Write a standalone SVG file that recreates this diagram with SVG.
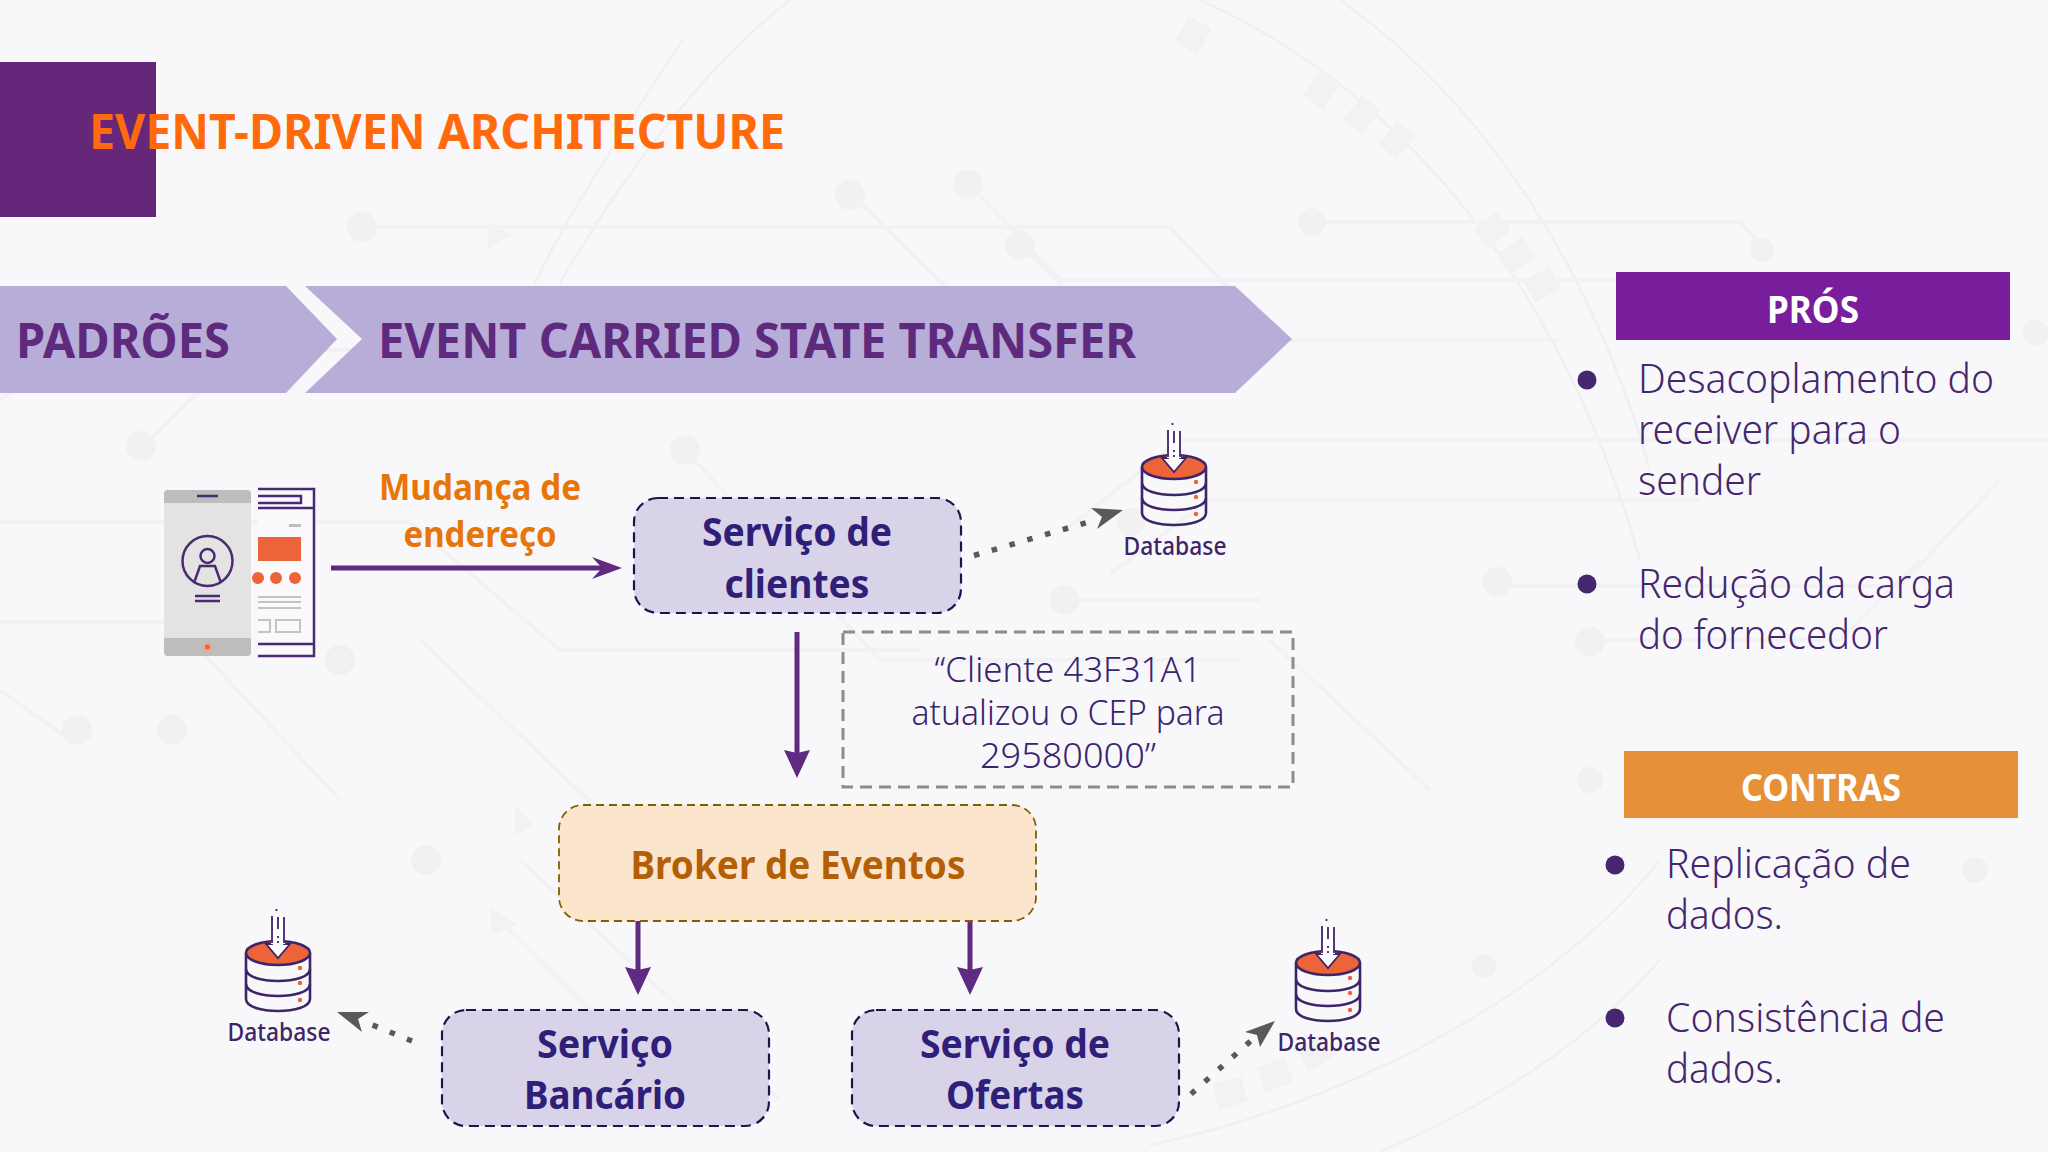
<svg xmlns="http://www.w3.org/2000/svg" xmlns:xlink="http://www.w3.org/1999/xlink" width="2048" height="1152" viewBox="0 0 2048 1152">
<style>
text{font-family:"Noto Sans","Open Sans",sans-serif}
.bgl{fill:none;stroke:#F2F1F4;stroke-width:4}
.bgt{fill:none;stroke:#F0EFF2;stroke-width:2.5}
.bgd{fill:#F1F0F3}
.bgs{fill:#F2F1F4}
.node{fill:#D9D3EA;stroke:#20124D;stroke-width:2.2;stroke-dasharray:10 6}
.nt{font-weight:700;font-size:40px;fill:#2F1F78;text-anchor:middle}
.body{font-size:40px;font-weight:300;fill:#45266F}
.bul{fill:#45266F}
.dbl{font-size:25px;font-weight:500;fill:#3E2468;text-anchor:middle}
.arrow{fill:none;stroke:#5F2A80;stroke-width:5}
.dot{fill:none;stroke:#595959;stroke-width:5.5;stroke-dasharray:5.5 13}
.q{font-size:34px;font-weight:300;fill:#3A2370;text-anchor:middle}
.ds{fill:none;stroke:#3E2468;stroke-width:2.6}
</style>
<defs>
<marker id="hBarb" markerUnits="userSpaceOnUse" markerWidth="40" markerHeight="30" refX="10" refY="15" orient="auto"><path d="M0 4 L30 15 L0 26 L10 15 Z" fill="#5F2A80"/></marker>
<marker id="hDown" markerUnits="userSpaceOnUse" markerWidth="34" markerHeight="34" refX="3" refY="15" orient="auto"><path d="M0 2 L28 15 L0 28 L3 15 Z" fill="#5F2A80"/></marker>
<g id="db">
<path d="M-32 0 V46 C-32 62 32 62 32 46 V0" fill="#FAF9FC" class="ds"/>
<path d="M-32 16 C-32 32 32 32 32 16 M-32 31 C-32 47 32 47 32 31" class="ds"/>
<ellipse cx="0" cy="0" rx="32" ry="12" fill="#EE6439" stroke="#3E2468" stroke-width="2.6"/>
<path d="M-6 -32 V-9 H-12 L0 5 L12 -9 H6 V-32" fill="#FFFFFF" stroke="#3E2468" stroke-width="1.8"/>
<rect x="-7" y="-36" width="14" height="27" fill="#FFFFFF"/>
<path d="M-6 -34 V-10 M6 -36 V-10" stroke="#3E2468" stroke-width="1.8"/>
<path d="M-1.5 -44 v2 M0 -36 v12 M0 -17 v2 M0 -12 v2 M-6 -37 v4" stroke="#3E2468" stroke-width="1.8"/>
<circle cx="22" cy="15" r="2.2" fill="#EE6439"/><circle cx="22" cy="30" r="2.2" fill="#EE6439"/><circle cx="22" cy="47" r="2.2" fill="#EE6439"/>
</g>
</defs>
<rect width="2048" height="1152" fill="#F8F8FA"/>
<g id="background">
<path class="bgt" d="M1200 0 C1400 90 1560 280 1640 560 M1340 0 C1480 100 1590 260 1650 470 M683 40 C630 120 570 210 535 283 M790 0 C700 70 620 180 560 283 M1150 1145 C1320 1110 1540 1010 1660 860 M1380 1152 C1500 1100 1590 1040 1660 960"/>
<g class="bgs"><rect x="1180" y="20" width="26" height="30" transform="rotate(30 1193 35)"/><rect x="1310" y="75" width="24" height="30" transform="rotate(35 1322 90)"/><rect x="1350" y="100" width="24" height="30" transform="rotate(38 1362 115)"/><rect x="1385" y="125" width="24" height="30" transform="rotate(40 1397 140)"/><rect x="1480" y="215" width="24" height="30" transform="rotate(50 1492 230)"/><rect x="1505" y="240" width="24" height="30" transform="rotate(55 1517 255)"/><rect x="1530" y="270" width="24" height="30" transform="rotate(60 1542 285)"/><rect x="1300" y="1040" width="30" height="26" transform="rotate(-28 1315 1053)"/><rect x="1260" y="1062" width="30" height="26" transform="rotate(-20 1275 1075)"/><rect x="1215" y="1080" width="30" height="26" transform="rotate(-15 1230 1093)"/></g>
<path class="bgl" d="M375 227 H1170 L1230 290 M850 193 L1000 340 H1560 M970 185 L1060 280 H1640 M1020 245 L1120 340 M1312 222 H1740 L1770 255 M0 522 H410 L560 650 H920 M0 622 H170 M0 690 L70 740 M1065 530 L1180 440 H2048 M1110 574 L1210 500 H1700 M1500 586 H1900 L2000 480 M1590 640 H1840 L1920 560 M140 450 L240 350 H1130 M685 450 L880 660 H1240 M1060 600 H1260 M1270 640 L1430 790 M0 400 L60 360 M200 650 L340 800 M420 640 L620 830 M520 860 L780 1100 M500 920 L620 1040"/>
<g class="bgd"><circle cx="362" cy="227" r="15"/><circle cx="850" cy="195" r="15"/><circle cx="968" cy="185" r="15"/><circle cx="1020" cy="245" r="15"/><circle cx="1312" cy="222" r="14"/><circle cx="1762" cy="250" r="12"/><circle cx="2035" cy="333" r="13"/><circle cx="141" cy="446" r="15"/><circle cx="685" cy="450" r="15"/><circle cx="1131" cy="522" r="14"/><circle cx="1065" cy="600" r="15"/><circle cx="1497" cy="582" r="15"/><circle cx="1590" cy="642" r="15"/><circle cx="77" cy="730" r="15"/><circle cx="172" cy="730" r="15"/><circle cx="340" cy="660" r="15"/><circle cx="426" cy="860" r="15"/><circle cx="1975" cy="870" r="13"/><circle cx="1484" cy="966" r="12"/><circle cx="1590" cy="780" r="13"/></g>
<path class="bgs" d="M488 222 L512 235 L488 250 Z M490 908 L518 925 L492 935 Z M515 805 L535 825 L515 835 Z"/>
</g>

<g id="title">
<rect x="0" y="62" width="156" height="155" fill="#66277A"/>
<text x="89" y="149" font-size="48" font-weight="700" fill="#FF6A0D" textLength="696" lengthAdjust="spacingAndGlyphs">EVENT-DRIVEN ARCHITECTURE</text>
</g>
<g id="banner-padroes">
<path d="M0 286 H286 L337 339 L286 393 H0 Z" fill="#B8ADD8"/>
<text x="16" y="358" font-size="49" font-weight="700" fill="#5E2A7E" textLength="214" lengthAdjust="spacingAndGlyphs">PADRÕES</text>
</g>
<g id="banner-ecst">
<path d="M305 286 H1235 L1292 339 L1235 393 H305 L362 339 Z" fill="#B8ADD8"/>
<text x="378" y="358" font-size="49" font-weight="700" fill="#5E2A7E" textLength="758" lengthAdjust="spacingAndGlyphs">EVENT CARRIED STATE TRANSFER</text>
</g>

<g id="pros">
<rect x="1616" y="272" width="394" height="68" fill="#781E9C"/>
<text x="1813" y="323" font-size="37" font-weight="700" fill="#FFFFFF" text-anchor="middle" textLength="92" lengthAdjust="spacingAndGlyphs">PRÓS</text>
<circle class="bul" cx="1587" cy="380" r="9.500"/>
<text class="body" x="1638" y="393" textLength="356" lengthAdjust="spacingAndGlyphs">Desacoplamento do</text>
<text class="body" x="1638" y="444" textLength="263" lengthAdjust="spacingAndGlyphs">receiver para o</text>
<text class="body" x="1638" y="495" textLength="123" lengthAdjust="spacingAndGlyphs">sender</text>
<circle class="bul" cx="1587" cy="584" r="9.500"/>
<text class="body" x="1638" y="598" textLength="317" lengthAdjust="spacingAndGlyphs">Redução da carga</text>
<text class="body" x="1638" y="649" textLength="250" lengthAdjust="spacingAndGlyphs">do fornecedor</text>
</g>
<g id="contras">
<rect x="1624" y="751" width="394" height="67" fill="#E69138"/>
<text x="1821" y="801" font-size="37" font-weight="700" fill="#FFFFFF" text-anchor="middle" textLength="160" lengthAdjust="spacingAndGlyphs">CONTRAS</text>
<circle class="bul" cx="1615" cy="865" r="9.500"/>
<text class="body" x="1666" y="878" textLength="245" lengthAdjust="spacingAndGlyphs">Replicação de</text>
<text class="body" x="1666" y="929" textLength="117" lengthAdjust="spacingAndGlyphs">dados.</text>
<circle class="bul" cx="1615" cy="1018" r="9.500"/>
<text class="body" x="1666" y="1032" textLength="279" lengthAdjust="spacingAndGlyphs">Consistência de</text>
<text class="body" x="1666" y="1083" textLength="117" lengthAdjust="spacingAndGlyphs">dados.</text>
</g>

<g id="connectors">
<line class="arrow" x1="331" y1="568" x2="602" y2="568" marker-end="url(#hBarb)"/>
<line class="arrow" x1="797" y1="632" x2="797" y2="753" marker-end="url(#hDown)"/>
<line class="arrow" x1="638" y1="921" x2="638" y2="970" marker-end="url(#hDown)"/>
<line class="arrow" x1="970" y1="921" x2="970" y2="970" marker-end="url(#hDown)"/>
<path class="dot" d="M974 555.500 L1092 521"/>
<path d="M1123 510 L1091 508 L1102 517 L1097 529 Z" fill="#595959"/>
<path class="dot" d="M412 1041 L370 1024"/>
<path d="M337 1012 L369 1012 L358 1019 L362 1032 Z" fill="#595959"/>
<path class="dot" d="M1191 1094 L1254 1038"/>
<path d="M1275 1021 L1245 1032 L1257 1035 L1260 1047 Z" fill="#595959"/>
</g>

<g id="client-app">
<path d="M258 489 H314 V656 H258 M258 508 H314" fill="#FAF9FC" stroke="#4A2A72" stroke-width="2.500"/>
<path d="M258 496 H301 V503 H258" fill="none" stroke="#4A2A72" stroke-width="2.500"/>
<path d="M258 644 H314" stroke="#4A2A72" stroke-width="2.500"/>
<rect x="289" y="524" width="12" height="3" fill="#BDBDBD"/>
<rect x="258" y="537" width="43" height="24" fill="#EE6439"/>
<circle cx="258" cy="578" r="6" fill="#EE6439"/><circle cx="276" cy="578" r="6" fill="#EE6439"/><circle cx="295" cy="578" r="6" fill="#EE6439"/>
<path d="M258 597 H301 M258 602 H301 M258 608 H301" stroke="#C4C4C4" stroke-width="2"/>
<path d="M258 620 H270 V632 H258 M276 620 H300 V632 H276 Z" fill="none" stroke="#C4C4C4" stroke-width="2"/>
<rect x="164" y="490" width="87" height="166" rx="4" fill="#E3E3E3"/>
<path d="M164 503 V494 a4 4 0 0 1 4 -4 H247 a4 4 0 0 1 4 4 V503 Z M164 638 H251 V652 a4 4 0 0 1 -4 4 H168 a4 4 0 0 1 -4 -4 Z" fill="#BDBDBD"/>
<path d="M197 496 H218" stroke="#4A2A72" stroke-width="2.500"/>
<circle cx="207.500" cy="561" r="25" fill="none" stroke="#4A2A72" stroke-width="2.500"/>
<circle cx="207.500" cy="556" r="7" fill="none" stroke="#4A2A72" stroke-width="2.500"/>
<path d="M194 583 L200 566 H215 L221 583" fill="none" stroke="#4A2A72" stroke-width="2.500"/>
<path d="M195 596 H220 M195 601 H220" stroke="#4A2A72" stroke-width="2.500"/>
<circle cx="207.500" cy="647" r="3.500" fill="#EE6439" stroke="#F4A68C" stroke-width="2"/>
</g>
<g id="label-mudanca" font-weight="700" font-size="35" fill="#E8750A" text-anchor="middle">
<text x="480" y="500" textLength="202" lengthAdjust="spacingAndGlyphs">Mudança de</text>
<text x="480" y="547" textLength="153" lengthAdjust="spacingAndGlyphs">endereço</text>
</g>

<g id="servico-clientes">
<rect class="node" x="634" y="498" width="327" height="115" rx="24"/>
<text class="nt" x="797" y="546" textLength="190" lengthAdjust="spacingAndGlyphs">Serviço de</text>
<text class="nt" x="797" y="598" textLength="145" lengthAdjust="spacingAndGlyphs">clientes</text>
</g>
<g id="evento">
<rect x="843" y="632" width="450" height="155" fill="none" stroke="#8C8C8C" stroke-width="3" stroke-dasharray="12 7"/>
<text class="q" x="1068" y="682" textLength="267" lengthAdjust="spacingAndGlyphs">“Cliente 43F31A1</text>
<text class="q" x="1068" y="725" textLength="313" lengthAdjust="spacingAndGlyphs">atualizou o CEP para</text>
<text class="q" x="1068" y="768" textLength="176" lengthAdjust="spacingAndGlyphs">29580000”</text>
</g>
<g id="broker">
<rect x="559" y="805" width="477" height="116" rx="24" fill="#FCE5CD" stroke="#7F6000" stroke-width="1.800" stroke-dasharray="8 5"/>
<text x="798" y="879" font-size="40" font-weight="700" fill="#B45F06" text-anchor="middle" textLength="335" lengthAdjust="spacingAndGlyphs">Broker de Eventos</text>
</g>
<g id="servico-bancario">
<rect class="node" x="442" y="1010" width="327" height="116" rx="24"/>
<text class="nt" x="605" y="1058" textLength="136" lengthAdjust="spacingAndGlyphs">Serviço</text>
<text class="nt" x="605" y="1109" textLength="162" lengthAdjust="spacingAndGlyphs">Bancário</text>
</g>
<g id="servico-ofertas">
<rect class="node" x="852" y="1010" width="327" height="116" rx="24"/>
<text class="nt" x="1015" y="1058" textLength="190" lengthAdjust="spacingAndGlyphs">Serviço de</text>
<text class="nt" x="1015" y="1109" textLength="138" lengthAdjust="spacingAndGlyphs">Ofertas</text>
</g>
<g id="db-clientes"><use href="#db" x="1174" y="467"/><text class="dbl" x="1175" y="555" textLength="103" lengthAdjust="spacingAndGlyphs">Database</text></g>
<g id="db-bancario"><use href="#db" x="278" y="953"/><text class="dbl" x="279" y="1041" textLength="103" lengthAdjust="spacingAndGlyphs">Database</text></g>
<g id="db-ofertas"><use href="#db" x="1328" y="963"/><text class="dbl" x="1329" y="1051" textLength="103" lengthAdjust="spacingAndGlyphs">Database</text></g>
</svg>
